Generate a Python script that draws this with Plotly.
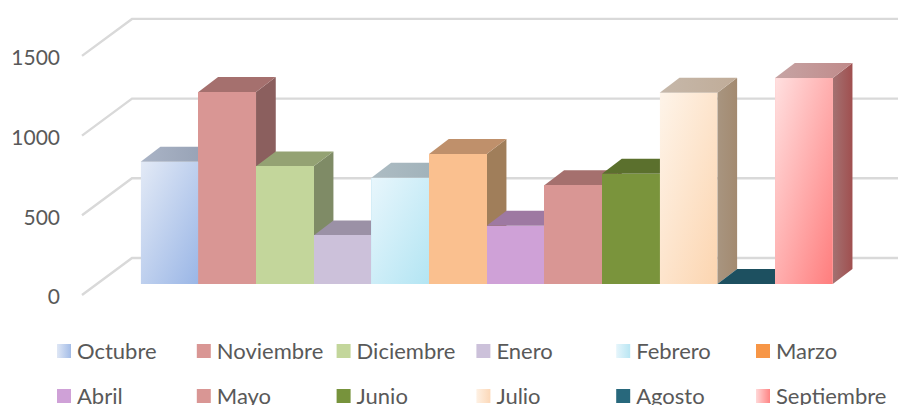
import base64
import plotly.graph_objects as go

# ---------- data ----------
months = ["Octubre", "Noviembre", "Diciembre", "Enero", "Febrero", "Marzo",
          "Abril", "Mayo", "Junio", "Julio", "Agosto", "Septiembre"]
values = [767, 1205, 738, 305, 667, 815, 366, 619, 692, 1200, 0, 1292]
y_ticks = [0, 500, 1000, 1500]

# ---------- styles ----------
front = ["#bccdec", "#d99694", "#c3d69b", "#ccc1da", "#cdeaf5", "#fac08f",
         "#cfa1d7", "#d99694", "#7a943c", "#fee3c9", "#215968", "#ffb0b0"]
front_grad = {0: ("#e3eaf6", "#9ab6e6"), 4: ("#e8f6fc", "#b3e5f3"),
              9: ("#fef4e9", "#fcd5b0"), 11: ("#ffe0e0", "#ff7d7d")}
top = [("#aab4c6", "#939eb2"), ("#a5706e", "#a5706e"), ("#94a273", "#94a273"),
       ("#9b91a6", "#9b91a6"), ("#adbcc3", "#9eb0b8"), ("#bf906b", "#bf906b"),
       ("#9e79a2", "#9e79a2"), ("#a5706e", "#a5706e"), ("#5b702d", "#5b702d"),
       ("#c6b8aa", "#c0ac98"), ("#1d5060", "#1d5060"), ("#c6a4a4", "#c08a8a")]
side = [("#8c97ac", "#8c97ac"), ("#8b5f5e", "#8b5f5e"), ("#7f8b66", "#7f8b66"),
        ("#8a8294", "#8a8294"), ("#9eb0b8", "#9eb0b8"), ("#a07e5a", "#a07e5a"),
        ("#8a6a8e", "#8a6a8e"), ("#8b5f5e", "#8b5f5e"), ("#4e6026", "#4e6026"),
        ("#a89580", "#a38a70"), ("#1a4755", "#1a4755"), ("#a37272", "#a04f4f")]
legend_col = ["#dfe7f5", "#d99694", "#c3d69b", "#ccc1da", "#e6f5fb", "#f79646",
              "#cfa1d7", "#d99694", "#77933c", "#fef1e4", "#28687c", "#ffd8d8"]
legend_end = {0: "#a3bce7", 4: "#b9e6f3", 9: "#fcd8b8", 11: "#ff8484"}
GRID = "#d9d9d9"
TEXT = "#595959"
FONT = "Lato, 'Open Sans', sans-serif"

W, H = 898, 405
BAR_PX = 57.67       # px per category
LEFT_PX = 140.7      # left edge of first bar
PX_PER_UNIT = 79.7 / 500
BASE_PX = 284        # pixel of value 0 on bar front
AXIS_PX = 297        # pixel of the "0" tick label centre
GRID_DROP = 2 / PX_PER_UNIT  # grid sits this far above the label centre
DX = 0.342           # bar depth in category units
DY = 94              # bar depth in value units
WALL_DX = 0.867      # wall depth in category units
WALL_DY = 232        # wall depth in value units
WALL_X0 = (82 - LEFT_PX) / BAR_PX - 0.5


def px_to_x(p):
    return (p - LEFT_PX) / BAR_PX - 0.5


x_range = [px_to_x(0), px_to_x(W)]
bar_range = [(BASE_PX - H) / PX_PER_UNIT, BASE_PX / PX_PER_UNIT]
axis_range = [(AXIS_PX - H) / PX_PER_UNIT, AXIS_PX / PX_PER_UNIT]
ROW0, ROW_GAP = 351, 45
COL0, COL_GAP = 64, 139.8
TEXT_DX = 13 / COL_GAP
TEXT_DY = 2 / ROW_GAP
leg_x_range = [(0 - COL0) / COL_GAP, (W - COL0) / COL_GAP]
leg_y_range = [(H - ROW0) / ROW_GAP, (0 - ROW0) / ROW_GAP]

fig = go.Figure()

# wall / floor gridlines
for t in y_ticks:
    fig.add_trace(go.Scatter(
        x=[WALL_X0, WALL_X0 + WALL_DX, x_range[1]],
        y=[t + GRID_DROP, t + GRID_DROP + WALL_DY, t + GRID_DROP + WALL_DY],
        mode="lines", line=dict(color=GRID, width=2.4),
        xaxis="x", yaxis="y", showlegend=False, hoverinfo="skip"))


def face(xs, ys, colors, name):
    c0, c1 = colors
    kw = dict(fillcolor=c0)
    if c0 != c1:
        kw = dict(fillgradient=dict(type="horizontal",
                                    colorscale=[[0, c0], [1, c1]]))
    fig.add_trace(go.Scatter(
        x=xs, y=ys, mode="lines", fill="toself", line=dict(width=0, color=c0),
        xaxis="x", yaxis="y2", showlegend=False, name=name, hoverinfo="skip", **kw))


# top and side faces of every column, painted left to right
for i, (m, v) in enumerate(zip(months, values)):
    l, r = i - 0.5, i + 0.5
    face([r, r + DX, r + DX, r, r], [0, DY, v + DY, v, 0], side[i], m + " lado")
    face([l, l + DX, r + DX, r, l], [v, v + DY, v + DY, v, v], top[i], m + " tapa")

# front faces
fig.add_trace(go.Bar(
    x=list(range(len(months))), y=values, width=1,
    marker=dict(color=front, line=dict(width=0)),
    customdata=months, hovertemplate="%{customdata}: %{y}<extra></extra>",
    xaxis="x", yaxis="y3", showlegend=False))

# legend keys + labels
for i, m in enumerate(months):
    marker = dict(symbol="square", size=14, color=legend_col[i], line=dict(width=0))
    if i in legend_end:
        marker["gradient"] = dict(type="horizontal", color=legend_end[i])
    fig.add_trace(go.Scatter(
        x=[i % 6], y=[i // 6], mode="markers", name=m, marker=marker,
        cliponaxis=False, xaxis="x2", yaxis="y4", showlegend=False, hoverinfo="skip"))
    fig.add_trace(go.Scatter(
        x=[i % 6 + TEXT_DX], y=[i // 6 + TEXT_DY], mode="text", text=[m], name=m,
        textposition="middle right",
        textfont=dict(family=FONT, size=22, color=TEXT),
        cliponaxis=False, xaxis="x2", yaxis="y4", showlegend=False, hoverinfo="skip"))

# gradient overlays on the front faces
images = []
for i, (c0, c1) in front_grad.items():
    svg = ('<svg xmlns="http://www.w3.org/2000/svg" width="100" height="100" '
           'viewBox="0 0 100 100" preserveAspectRatio="none"><defs>'
           '<linearGradient id="g" x1="0" y1="0" x2="1" y2="1">'
           f'<stop offset="0" stop-color="{c0}"/><stop offset="1" stop-color="{c1}"/>'
           '</linearGradient></defs><rect width="100" height="100" fill="url(#g)"/></svg>')
    src = "data:image/svg+xml;base64," + base64.b64encode(svg.encode()).decode()
    images.append(dict(source=src, xref="x", yref="y3", x=i - 0.5, y=values[i],
                       sizex=1, sizey=values[i], sizing="stretch",
                       xanchor="left", yanchor="top", layer="above"))

hidden = dict(visible=False, fixedrange=True)
fig.update_layout(
    width=W, height=H, margin=dict(l=0, r=0, t=0, b=0, pad=0, autoexpand=False),
    paper_bgcolor="white", plot_bgcolor="rgba(0,0,0,0)",
    showlegend=False, bargap=0, images=images,
    font=dict(family=FONT, color=TEXT),
    xaxis=dict(range=x_range, domain=[0, 1], **hidden),
    xaxis2=dict(range=leg_x_range, overlaying="x", anchor="y4", **hidden),
    yaxis=dict(range=axis_range, domain=[0, 1], anchor="free", position=60 / W,
               tickmode="array", tickvals=y_ticks, ticktext=[str(t) for t in y_ticks],
               showgrid=False, zeroline=False, showline=False, ticks="",
               tickfont=dict(family=FONT, size=21, color=TEXT), fixedrange=True),
    yaxis2=dict(range=bar_range, overlaying="y", **hidden),
    yaxis3=dict(range=bar_range, overlaying="y", **hidden),
    yaxis4=dict(range=leg_y_range, overlaying="y", anchor="x2", **hidden),
)
fig.write_html("out.html", config=dict(displayModeBar=False),
               post_script="document.body.style.margin='0';")
